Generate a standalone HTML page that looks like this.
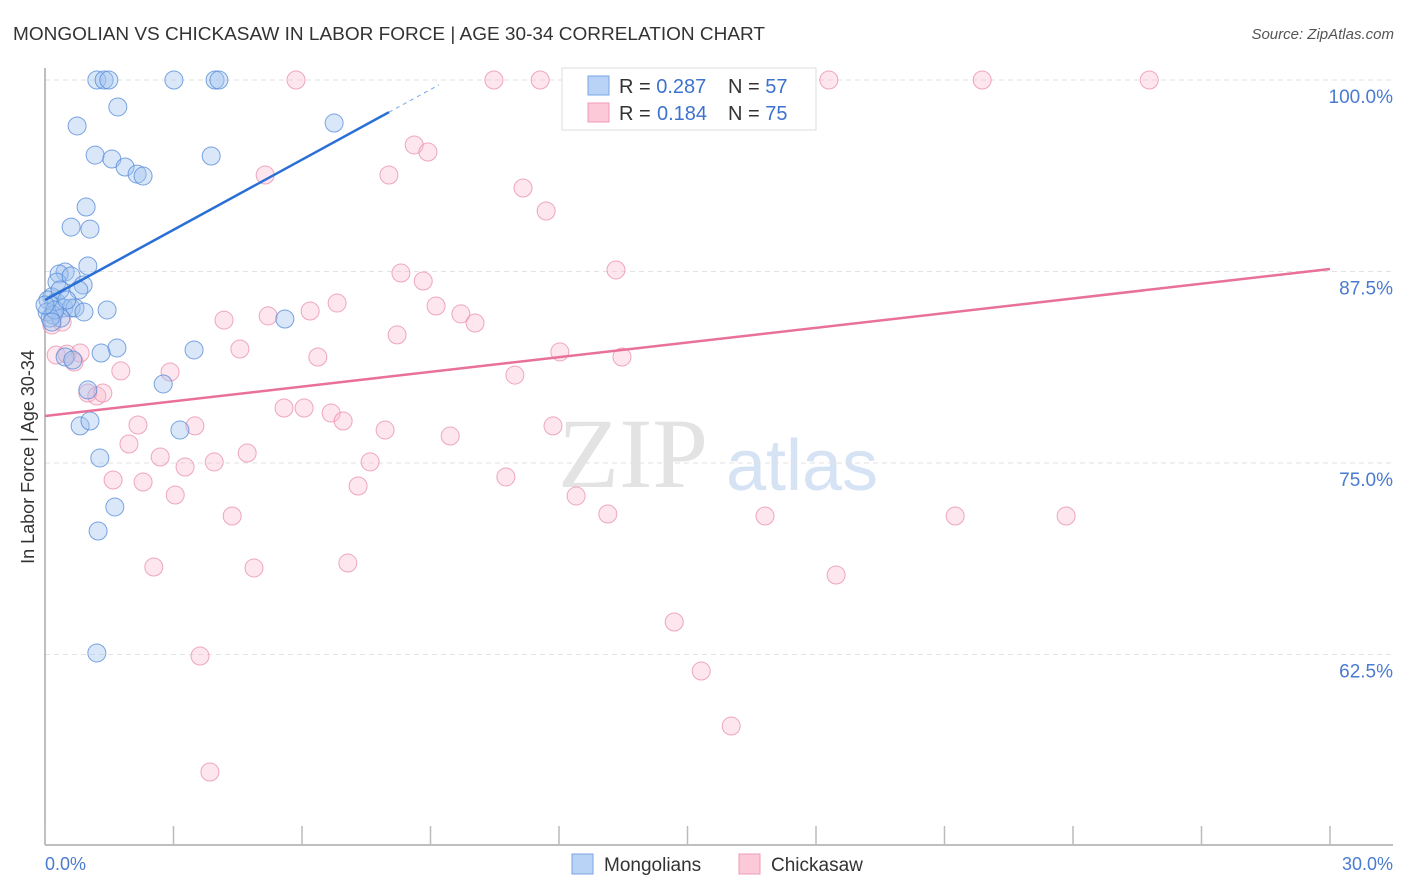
<!DOCTYPE html>
<html><head><meta charset="utf-8"><style>
body{margin:0;background:#fff;font-family:"Liberation Sans",sans-serif;}
#wrap{position:relative;width:1406px;height:892px;overflow:hidden;}
</style></head><body>
<div id="wrap">
<svg id="svg" width="1406" height="892" xmlns="http://www.w3.org/2000/svg">
<text x="13" y="40" font-size="18" fill="#333" textLength="752" lengthAdjust="spacingAndGlyphs">MONGOLIAN VS CHICKASAW IN LABOR FORCE | AGE 30-34 CORRELATION CHART</text>
<text x="1394" y="39" font-size="15" fill="#555" font-style="italic" text-anchor="end">Source: ZipAtlas.com</text>
<text x="633" y="487" font-size="100" fill="#e3e3e3" font-family="Liberation Serif,serif" text-anchor="middle">ZIP</text>
<text x="802" y="490" font-size="72" fill="#d6e3f5" text-anchor="middle">atlas</text>
<g id="grid"></g>
<line x1="45" y1="68" x2="45" y2="845" stroke="#aaa" stroke-width="1.5"/>
<line x1="45" y1="845" x2="1393" y2="845" stroke="#aaa" stroke-width="1.5"/>
<g id="ticks"></g>
<g id="pts"></g>
<g id="trend"></g>
<text transform="translate(34,457) rotate(-90)" font-size="18" fill="#333" text-anchor="middle">In Labor Force | Age 30-34</text>
<text x="45" y="870" font-size="18" fill="#4a7bd0">0.0%</text>
<text x="1393" y="870" font-size="18" fill="#4a7bd0" text-anchor="end">30.0%</text>
<g>
<rect x="562" y="68" width="254" height="62" fill="#fff" stroke="#ddd"/>
<rect x="588" y="76" width="21" height="19" fill="#b8d3f5" stroke="#7aa6e6"/>
<rect x="588" y="103" width="21" height="19" fill="#fbc9d8" stroke="#f09ab5"/>
<text x="619" y="93" font-size="20" fill="#333">R = <tspan fill="#3d72d0">0.287</tspan><tspan x="728">N = </tspan><tspan fill="#3d72d0">57</tspan></text>
<text x="619" y="120" font-size="20" fill="#333">R = <tspan x="657" fill="#3d72d0">0.184</tspan><tspan x="728">N = </tspan><tspan fill="#3d72d0">75</tspan></text>
</g>
<g>
<rect x="572" y="854" width="21" height="20" fill="#b8d3f5" stroke="#7aa6e6"/>
<text x="604" y="871" font-size="19" fill="#333">Mongolians</text>
<rect x="739" y="854" width="21" height="20" fill="#fbc9d8" stroke="#f09ab5"/>
<text x="771" y="871" font-size="19" fill="#333">Chickasaw</text>
</g>
</svg>
</div>
<script>
const yTicks=[100,87.5,75,62.5];
const yTickLabels=["100.0%","87.5%","75.0%","62.5%"];
const xTicks=[0,3,6,9,12,15,18,21,24,27,30];
const blueX=[1.21,1.38,1.49,3.01,3.97,4.06,1.70,0.75,6.75,1.17,1.56,1.87,2.15,2.29,3.88,0.96,0.61,1.05,1.00,0.47,0.33,0.28,0.61,0.89,0.79,0.16,0.07,0.26,0.44,0.61,0.70,0.05,0.19,0.37,0.91,1.45,5.60,1.68,1.31,3.48,0.47,0.65,2.76,1.00,0.82,1.05,3.15,1.28,1.63,1.24,1.21,0.12,0.23,0.00,0.35,0.51,0.16];
const blueY=[100,100,100,100,100,100,98.24,97.00,97.19,95.10,94.84,94.32,93.86,93.73,95.04,91.71,90.40,90.27,87.86,87.47,87.34,86.81,87.21,86.62,86.29,85.84,85.64,85.51,85.12,85.12,85.12,84.86,84.66,84.46,84.86,84.99,84.40,82.51,82.18,82.38,81.92,81.72,80.16,79.77,77.42,77.74,77.15,75.33,72.13,70.56,62.60,84.46,84.99,85.31,86.29,85.64,84.20];
const pinkX=[5.86,10.48,11.56,16.55,18.30,21.88,25.78,8.62,8.94,5.14,8.03,11.16,11.70,13.33,8.31,8.83,6.82,9.13,9.71,10.04,6.19,5.21,4.18,8.22,4.55,6.37,12.02,13.47,0.26,0.51,0.82,0.68,1.77,2.92,10.97,1.00,1.21,1.35,5.58,6.05,6.68,6.96,7.94,9.46,11.86,2.17,3.50,1.96,2.69,4.72,3.95,3.27,7.59,1.59,2.29,3.04,7.31,10.76,12.40,13.14,16.81,21.25,23.84,4.37,2.54,4.88,7.07,18.47,14.69,15.32,3.62,16.02,3.85,0.16,0.40];
const pinkY=[100,100,100,100,100,100,100,95.76,95.30,93.80,93.80,92.95,91.45,87.60,87.40,86.88,85.44,85.25,84.73,84.14,84.92,84.60,84.33,83.36,82.44,81.92,82.25,81.92,82.05,82.11,82.18,81.59,81.01,80.94,80.74,79.57,79.37,79.57,78.59,78.59,78.26,77.74,77.15,76.76,77.42,77.48,77.42,76.24,75.39,75.65,75.07,74.74,75.07,73.89,73.76,72.91,73.50,74.09,72.85,71.67,71.54,71.54,71.54,71.54,68.21,68.15,68.47,67.69,64.62,61.42,62.40,57.83,54.83,84.01,84.20];
const blueTrend=[0,85.64,8.03,97.9];
const pinkTrend=[0,78.07,30,87.66];

const NS="http://www.w3.org/2000/svg";
const xs=v=>45+v/30*1285;
const ys=v=>80+(100-v)/12.5*191.5;
function mk(tag,attrs,parent){const e=document.createElementNS(NS,tag);for(const k in attrs)e.setAttribute(k,attrs[k]);parent.appendChild(e);return e;}
const grid=document.getElementById('grid'),ticks=document.getElementById('ticks'),pts=document.getElementById('pts'),trend=document.getElementById('trend');
yTicks.forEach((t,i)=>{
 const l=mk('line',{x1:45,x2:1393,y1:ys(t),y2:ys(t),stroke:'#e2e2e2','stroke-dasharray':'5,4'},grid);
 
 
 const tx=mk('text',{x:1393,y:ys(t)+23,'font-size':19,fill:'#4a7bd0','text-anchor':'end'},grid);
 tx.textContent=yTickLabels[i];
 
 
});
xTicks.forEach(t=>{
 const l=mk('line',{x1:xs(t),x2:xs(t),y1:826,y2:845,stroke:'#bbb','stroke-width':1.5},ticks);
 
 
});
pinkX.forEach((x,i)=>{
 const c=mk('circle',{cx:xs(x),cy:ys(pinkY[i]),r:9,fill:'rgba(248,182,202,0.35)',stroke:'rgba(232,140,172,0.75)','stroke-width':1},pts);
 
 
});
blueX.forEach((x,i)=>{
 const c=mk('circle',{cx:xs(x),cy:ys(blueY[i]),r:9,fill:'rgba(160,196,240,0.4)',stroke:'rgba(80,135,215,0.75)','stroke-width':1},pts);
 
 
});
const bl=mk('line',{x1:xs(blueTrend[0]),y1:ys(blueTrend[1]),x2:xs(blueTrend[2]),y2:ys(blueTrend[3]),stroke:'#2a6fd6','stroke-width':2.5},trend);


const slope=(blueTrend[3]-blueTrend[1])/(blueTrend[2]-blueTrend[0]);
const bd=mk('line',{x1:xs(blueTrend[2]),y1:ys(blueTrend[3]),x2:xs(9.2),y2:ys(blueTrend[1]+slope*9.2),stroke:'#7aa6e6','stroke-width':1,'stroke-dasharray':'4,4'},trend);


const pl=mk('line',{x1:xs(pinkTrend[0]),y1:ys(pinkTrend[1]),x2:xs(pinkTrend[2]),y2:ys(pinkTrend[3]),stroke:'#e8709a','stroke-width':2.5},trend);


</script>
</body></html>
